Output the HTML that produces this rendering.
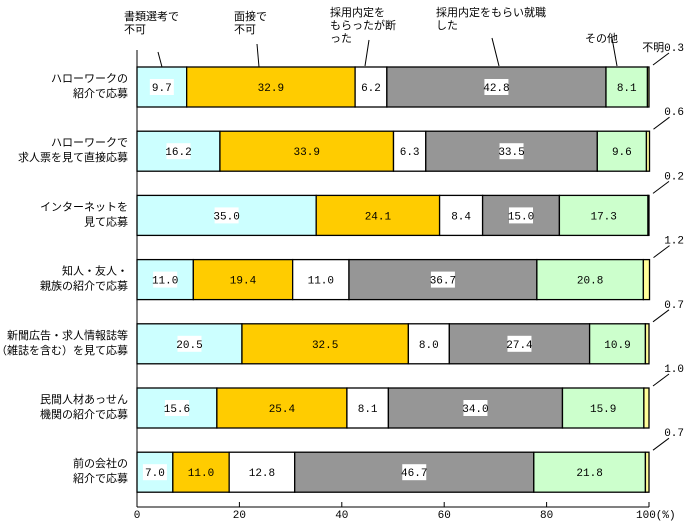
<!DOCTYPE html>
<html><head><meta charset="utf-8"><style>
body{margin:0;background:#fff;}
svg text{font-family:"Liberation Sans","Noto Sans CJK JP",sans-serif;font-size:11px;fill:#000;}
svg text.num{font-family:"Liberation Mono","Noto Sans CJK JP",monospace;font-size:11px;}
</style></head><body>
<svg id="c" width="688" height="521"></svg>
<script>
const categories=[["ハローワークの","紹介で応募"],["ハローワークで","求人票を見て直接応募"],["インターネットを","見て応募"],["知人・友人・","親族の紹介で応募"],["新聞広告・求人情報誌等","（雑誌を含む）を見て応募"],["民間人材あっせん","機関の紹介で応募"],["前の会社の","紹介で応募"]];
const seriesNames=["書類選考で不可","面接で不可","採用内定をもらったが断った","採用内定をもらい就職した","その他","不明"];
const s1=[9.7,16.2,35.0,11.0,20.5,15.6,7.0];
const s2=[32.9,33.9,24.1,19.4,32.5,25.4,11.0];
const s3=[6.2,6.3,8.4,11.0,8.0,8.1,12.8];
const s4=[42.8,33.5,15.0,36.7,27.4,34.0,46.7];
const s5=[8.1,9.6,17.3,20.8,10.9,15.9,21.8];
const s6=[0.3,0.6,0.2,1.2,0.7,1.0,0.7];
const ticks=[0,20,40,60,80,100];
const series=[s1,s2,s3,s4,s5,s6];
const colors=["#ccffff","#ffcc00","#ffffff","#969696","#ccffcc","#ffff99"];
const svg=document.getElementById('c');const NS="http://www.w3.org/2000/svg";
function el(t,a,p){const e=document.createElementNS(NS,t);for(const k in a)e.setAttribute(k,a[k]);(p||svg).appendChild(e);return e;}
const x0=137,x1=649;const X=v=>x0+(x1-x0)*v/100;
const rowTop=i=>67+i*64.2;const bh=40;
let ax=el('line',{x1:x0,y1:50,x2:x0,y2:507,stroke:'#000'});


let bx=el('line',{x1:x0,y1:507,x2:X(100),y2:507,stroke:'#000'});


ticks.forEach(t=>{
 const tl=el('line',{x1:X(t),y1:507,x2:X(t),y2:502,stroke:'#000'});
 
 
 const tx=el('text',{x:t===100?X(t)-13:X(t),y:518,'text-anchor':t===100?'start':'middle','class':'num'});
 tx.textContent=t===100?'100(%)':String(t);
 
 
});
categories.forEach((c,i)=>{
 const y=rowTop(i);
 c.forEach((ln,j)=>{const t=el('text',{x:128,y:y+15+j*15,'text-anchor':'end'});t.textContent=ln;
  
  });
 let acc=0;
 series.forEach((s,k)=>{
  const v=s[i];const r=el('rect',{x:X(acc),y:y,width:X(acc+v)-X(acc),height:bh,fill:colors[k],stroke:'#000','stroke-width':1.3});
  
  
  const cx=(X(acc)+X(acc+v))/2;
  if(k<5){
   const lbl=v.toFixed(1);
   if(k!==1&&k!==4){const bg=el('rect',{x:cx-12,y:y+12,width:24,height:16,fill:'#fff'});}
   const t=el('text',{x:cx,y:y+24,'text-anchor':'middle','class':'num'});t.textContent=lbl;
   
   
  } else {
   const ln=el('line',{x1:X(acc+v)+4,y1:y-2,x2:X(acc+v)+20,y2:y-14,stroke:'#000'});
   
   
   const t=el('text',{x:684,y:y-16,'text-anchor':'end','class':'num'});t.textContent=(i===0?'不明':'')+v.toFixed(1);
   
   
  }
  acc+=v;
 });
});
const callouts=[[["書類選考で","不可"],124,10,[158,52,162,67]],[["面接で","不可"],234,10,[257,44,259,67]],[["採用内定を","もらったが断","った"],330,6,[369,40,365,66]],[["採用内定をもらい就職","した"],436,6,[492,38,499,66]],[["その他"],585,32,[612,38,617,66]]];
callouts.forEach(c=>{
 c[0].forEach((ln,j)=>{const t=el('text',{x:c[1],y:c[2]+10+j*13});t.textContent=ln;
  
  });
 const l=el('line',{x1:c[3][0],y1:c[3][1],x2:c[3][2],y2:c[3][3],stroke:'#000'});
 
 
});
</script>
</body></html>
